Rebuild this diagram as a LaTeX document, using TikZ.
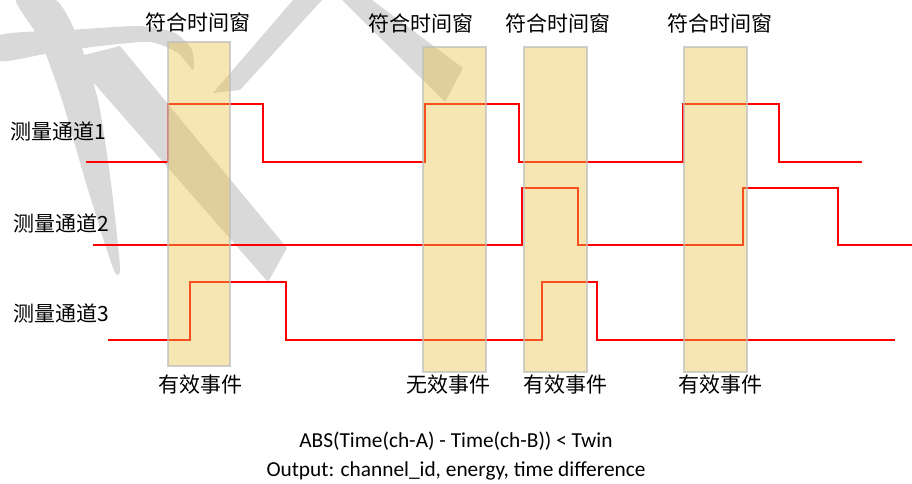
\documentclass[tikz,border=0pt]{standalone}
\usepackage{fontspec}
\setmainfont{Carlito}
\newfontfamily\cjk{Noto Sans CJK SC}
\definecolor{wmgray}{RGB}{217,217,217}
\definecolor{winfill}{RGB}{232,195,73}
\definecolor{winline}{RGB}{190,190,190}
\begin{document}
\begin{tikzpicture}[x=0.75pt, y=-0.75pt,
  every node/.style={inner sep=0pt, font=\cjk\fontsize{15.75}{18}\selectfont},
  sig/.style={red, line width=1.5pt},
  win/.style={fill=winfill, fill opacity=0.41, draw=winline, draw opacity=0.7, line width=1pt},
  formula/.style={font=\fontsize{16}{19}\selectfont}]
  \useasboundingbox (0,0) rectangle (912,483);
  % watermark strokes
  \fill[wmgray] plot[smooth cycle, tension=0.4] coordinates {(16,0) (40,40) (62,100) (86,183) (113,268) (120,268) (111,183) (98,100) (78,38) (56,0)};
  \fill[wmgray] plot[smooth cycle, tension=0.4] coordinates {(0,35) (70,30) (140,26) (175,33) (192,50) (193,70) (178,53) (150,42) (100,46) (50,53) (0,61)};
  \fill[wmgray] (72,58) -- (120,46) -- (287,248) -- (268,282) -- cycle;
  \fill[wmgray] (293,0) -- (322,0) -- (240,90) -- (213,93) -- cycle;
  \fill[wmgray] (342,0) -- (372,0) -- (463,68) -- (445,102) -- cycle;
  % channels
  \draw[sig] (86,162) -- (168,162) -- (168,104) -- (263,104) -- (263,162) -- (425,162) -- (425,104) -- (519,104) -- (519,162) -- (683,162) -- (683,104) -- (779,104) -- (779,162) -- (862,162);
  \draw[sig] (93,245) -- (522,245) -- (522,188) -- (578,188) -- (578,245) -- (743,245) -- (743,188) -- (838,188) -- (838,245) -- (912,245);
  \draw[sig] (108,340) -- (190,340) -- (190,282) -- (286,282) -- (286,340) -- (542,340) -- (542,282) -- (597,282) -- (597,340) -- (895,340);
  % coincidence windows
  \draw[win] (168,42) rectangle (230,366);
  \draw[win] (423,47) rectangle (486,372);
  \draw[win] (524,47) rectangle (587,372);
  \draw[win] (684,47) rectangle (747,372);
  \node (t1) at (198,22) {符合时间窗};
  \node (t2) at (421,23) {符合时间窗};
  \node (t3) at (558,23) {符合时间窗};
  \node (t4) at (720,23) {符合时间窗};
  \node[anchor=west] (c1) at (10,131) {测量通道1};
  \node[anchor=west] (c2) at (13,223) {测量通道2};
  \node[anchor=west] (c3) at (13,313) {测量通道3};
  \node (e1) at (200,385) {有效事件};
  \node (e2) at (448,385) {无效事件};
  \node (e3) at (565,385) {有效事件};
  \node (e4) at (720,385) {有效事件};
  \node[formula] (abs) at (456,441) {ABS(Time(ch-A) - Time(ch-B)) < Twin};
  \node[formula] (out) at (456,471) {Output: channel\_id, energy, time difference};
\end{tikzpicture}
\end{document}
